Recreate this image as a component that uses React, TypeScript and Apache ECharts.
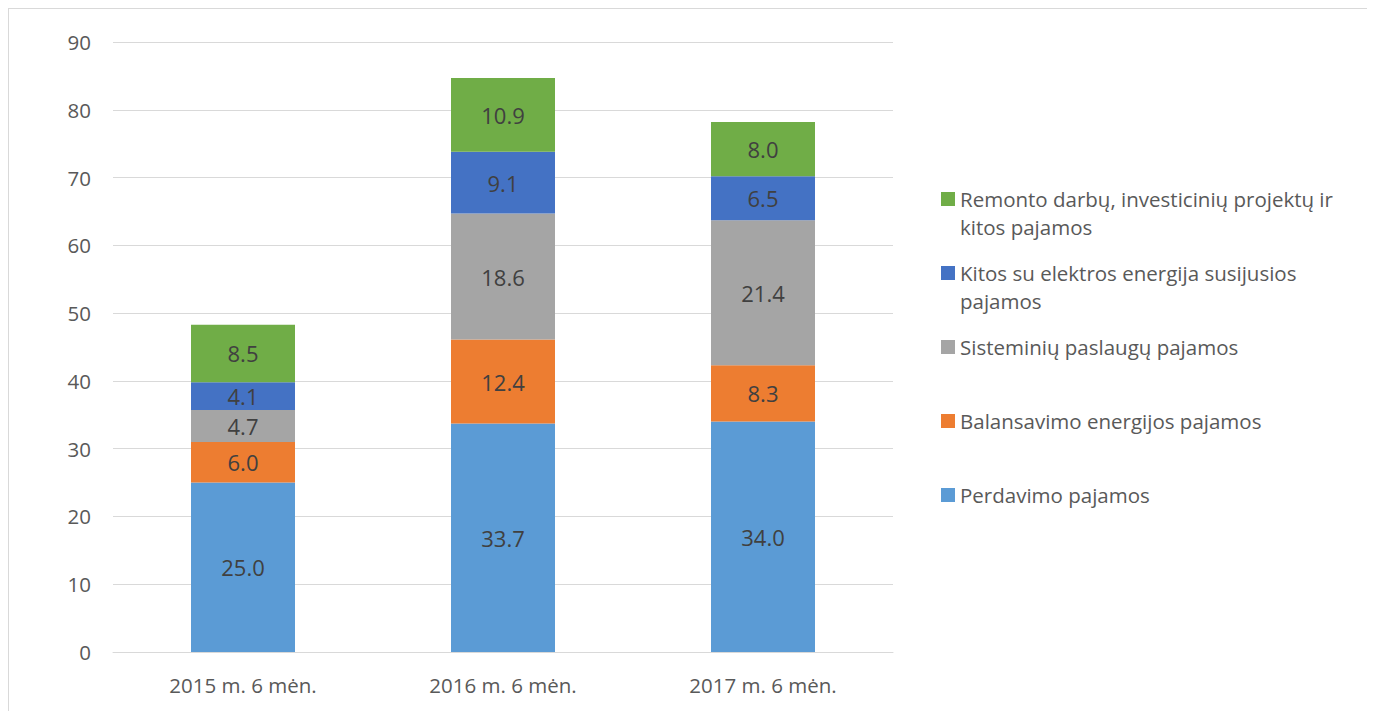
import React, { useEffect, useRef } from "react";
import * as echarts from "echarts";

const categories = ["2015 m. 6 mėn.", "2016 m. 6 mėn.", "2017 m. 6 mėn."];
const seriesNames = [
  "Perdavimo pajamos",
  "Balansavimo energijos pajamos",
  "Sisteminių paslaugų pajamos",
  "Kitos su elektros energija susijusios pajamos",
  "Remonto darbų, investicinių projektų ir kitos pajamos",
];
const legendLines = [
  ["Perdavimo pajamos"],
  ["Balansavimo energijos pajamos"],
  ["Sisteminių paslaugų pajamos"],
  ["Kitos su elektros energija susijusios", "pajamos"],
  ["Remonto darbų, investicinių projektų ir", "kitos pajamos"],
];
const perdavimo = [25.0, 33.7, 34.0];
const balansavimo = [6.0, 12.4, 8.3];
const sisteminiu = [4.7, 18.6, 21.4];
const kitos = [4.1, 9.1, 6.5];
const remonto = [8.5, 10.9, 8.0];
const seriesValues = [perdavimo, balansavimo, sisteminiu, kitos, remonto];
const colors = ["#5B9BD5", "#ED7D31", "#A5A5A5", "#4472C4", "#70AD47"];
const yTicks = [0, 10, 20, 30, 40, 50, 60, 70, 80, 90];

const FONT = "'Open Sans', 'Noto Sans', sans-serif";

export default function App() {
  const ref = useRef<HTMLDivElement>(null);
  useEffect(() => {
    if (!ref.current) return;
    const chart = echarts.init(ref.current, undefined, { renderer: "svg" });
    const legendTops = [486, 412, 338, 264, 190];
    const graphic: any[] = [];
    seriesNames.forEach((name, i) => {
      const cy = legendTops[i];
      graphic.push({
        type: "rect",
        shape: { x: 932, y: cy - 7, width: 14, height: 14 },
        style: { fill: colors[i] },
      });
      legendLines[i].forEach((line, j) => {
        graphic.push({
          type: "text",
          x: 951,
          y: cy + j * 28,
          style: {
            text: line,
            fill: "#595959",
            font: `20.5px ${FONT}`,
            textVerticalAlign: "middle",
            textAlign: "left",
          },
        });
      });
    });
    chart.setOption({
      animation: false,
      textStyle: { fontFamily: FONT },
      grid: { left: 104, top: 33, width: 780, height: 610, containLabel: false },
      xAxis: {
        type: "category",
        data: categories,
        axisLine: { lineStyle: { color: "#d9d9d9", width: 1 } },
        axisTick: { show: false },
        axisLabel: { color: "#595959", fontSize: 20.5, margin: 22, fontFamily: FONT },
      },
      yAxis: {
        type: "value",
        min: yTicks[0],
        max: yTicks[yTicks.length - 1],
        interval: 10,
        axisLine: { show: false },
        axisTick: { show: false },
        axisLabel: { color: "#595959", fontSize: 20.5, margin: 22, fontFamily: FONT },
        splitLine: { lineStyle: { color: "#d9d9d9", width: 1 } },
      },
      series: seriesNames.map((name, i) => ({
        name,
        type: "bar",
        stack: "total",
        barWidth: 104,
        data: seriesValues[i],
        itemStyle: { color: colors[i] },
        label: {
          show: true,
          position: "inside",
          color: "#404040",
          fontSize: 22,
          fontFamily: FONT,
          formatter: (p: any) => Number(p.value).toFixed(1),
        },
      })),
      graphic,
    });
    return () => chart.dispose();
  }, []);
  return (
    <div
      ref={ref}
      style={{
        width: 1360,
        height: 720,
        border: "1px solid #d9d9d9",
        boxSizing: "border-box",
      }}
    />
  );
}
